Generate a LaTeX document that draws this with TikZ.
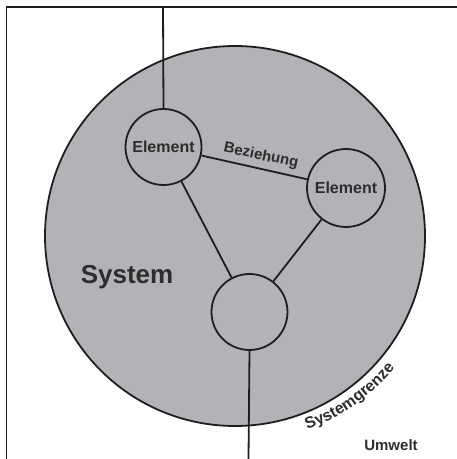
\documentclass[tikz,border=0pt]{standalone}
\usepackage{fontspec}
\setmainfont{Liberation Sans}
\usetikzlibrary{decorations.text}

\definecolor{sysgray}{RGB}{177,179,182}
\definecolor{inkline}{RGB}{30,30,30}
\definecolor{inktext}{RGB}{45,45,45}

\tikzset{
	elem/.style={circle, draw=inkline, line width=1.8pt, fill=sysgray, minimum size=76pt, inner sep=0pt,
		font=\fontsize{16}{16}\selectfont\bfseries, text=inktext},
	link/.style={draw=inkline, line width=1.8pt},
	lbl/.style={font=\fontsize{15}{15}\selectfont\bfseries, text=inktext, inner sep=0pt}
}

\begin{document}
\begin{tikzpicture}[x=1pt, y=1pt]
		
			\useasboundingbox (0,0) rectangle (457,459);
			
			\coordinate (frameBL) at (6.5,0);
			\coordinate (frameTL) at (6.5,452);
			\coordinate (frameTR) at (457,452);
			\coordinate (inTop) at (163,452);
			\coordinate (outBot) at (248.5,0);
			
			\draw[link] (frameBL) -- (frameTL) -- (frameTR);
			
			\node[circle, draw=inkline, line width=1.8pt, fill=sysgray, minimum size=380pt, inner sep=0pt] (system) at (235,223) {};
			
			\node[elem] (elemA) at (163.5,312) {Element};
			\node[elem, minimum size=78pt] (elemB) at (346,271) {Element};
			\node[elem] (elemC) at (249.5,147) {};
			
			\draw[link] (inTop) -- (elemA.north);
			\draw[link] (elemC.south) -- (outBot);
			\draw[link] (elemA) -- (elemB);
			\draw[link] (elemA) -- (elemC);
			\draw[link] (elemB) -- (elemC);
			
			\node[lbl, rotate=-12] (bez) at (261,303) {Beziehung};
			\node[lbl, font=\fontsize{26}{26}\selectfont\bfseries] (sys) at (127,182) {System};
			\node[lbl] (umwelt) at (391,14) {Umwelt};
			
			\path[decorate, decoration={text along path, text align=center,
				text={|\fontsize{16}{16}\selectfont\bfseries\color{inktext}|Systemgrenze}}]
				([shift={(235,223)}]-77:207) arc[start angle=-77, end angle=-32, radius=207];
			
		\end{tikzpicture}
\end{document}
